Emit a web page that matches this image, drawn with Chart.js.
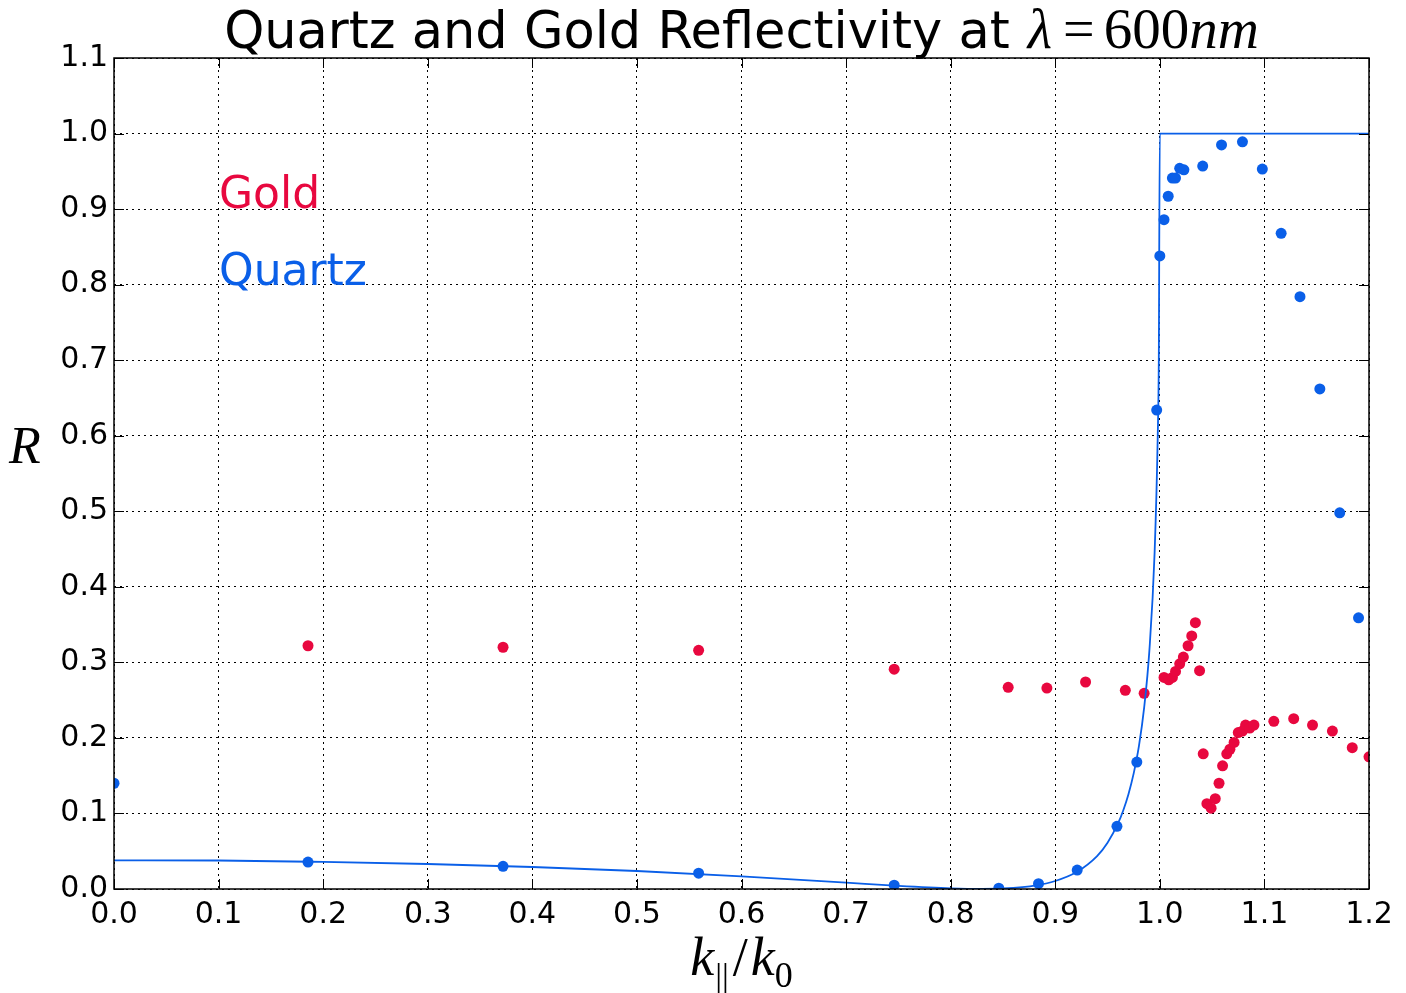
<!DOCTYPE html>
<html>
<head>
<meta charset="utf-8">
<script src="https://cdn.jsdelivr.net/npm/chart.js@4/dist/chart.umd.min.js"></script>
<style>
  body { margin: 0; background: #fff; }
  #wrap { width: 1406px; height: 993px; }
</style>
</head>
<body>
<div id="wrap"><canvas id="reflChart" width="1406" height="993"></canvas></div>
<script>
// values
const quartzK = [0, 0.1855, 0.372, 0.559, 0.746, 0.846, 0.884, 0.921, 0.959, 0.978,
  0.997, 1.000, 1.004, 1.008, 1.012, 1.015, 1.019, 1.023, 1.041, 1.059,
  1.079, 1.098, 1.116, 1.134, 1.153, 1.172, 1.190];
const quartzR = [0.140, 0.0357, 0.030, 0.021, 0.005, 0.001, 0.007, 0.025, 0.083, 0.168,
  0.634, 0.838, 0.886, 0.917, 0.941, 0.941, 0.954, 0.952, 0.957, 0.985,
  0.989, 0.953, 0.868, 0.784, 0.662, 0.498, 0.359];

const goldK = [0.1855, 0.372, 0.559, 0.746, 0.855, 0.892, 0.929, 0.967, 0.985,
  1.004, 1.0085, 1.012, 1.015, 1.019, 1.0225, 1.027, 1.0305, 1.034, 1.038,
  1.0415, 1.045, 1.049, 1.053, 1.0566, 1.060, 1.064, 1.067, 1.071, 1.075,
  1.079, 1.082, 1.086, 1.090, 1.109, 1.128, 1.146, 1.165, 1.184, 1.200];
const goldR = [0.322, 0.320, 0.316, 0.291, 0.267, 0.266, 0.274, 0.263, 0.259,
  0.280, 0.277, 0.280, 0.288, 0.298, 0.307, 0.322, 0.335, 0.3525, 0.289,
  0.179, 0.113, 0.107, 0.1195, 0.140, 0.163, 0.179, 0.185, 0.194, 0.207,
  0.209, 0.217, 0.213, 0.217, 0.222, 0.2255, 0.217, 0.209, 0.187, 0.175];

// the solid quartz curve
const curveK = [0, 0.1, 0.2, 0.3, 0.4, 0.5, 0.6, 0.7, 0.75, 0.8,
  0.83, 0.86, 0.88, 0.9, 0.92, 0.94, 0.95, 0.96, 0.965, 0.97,
  0.975, 0.98, 0.985, 0.99, 0.995, 0.998, 0.999, 1.0, 1.2];
const curveR = [0.0380, 0.0377, 0.0358, 0.0331, 0.0291, 0.0238, 0.0168, 0.0084, 0.0041, 0.0008,
  0.0000, 0.0014, 0.0044, 0.0106, 0.0221, 0.0436, 0.0613, 0.0868, 0.104, 0.1255,
  0.153, 0.189, 0.240, 0.3155, 0.445, 0.60, 0.698, 1.0, 1.0];

const xTicks = [0, 0.1, 0.2, 0.3, 0.4, 0.5, 0.6, 0.7, 0.8, 0.9, 1.0, 1.1, 1.2];
const yTicks = [0, 0.1, 0.2, 0.3, 0.4, 0.5, 0.6, 0.7, 0.8, 0.9, 1.0, 1.1];

const RED = "#e8083f";
const BLUE = "#0a5fe8";
const toPts = (xs, ys) => xs.map((x, i) => ({ x: x, y: ys[i] }));

function drawPieces(ctx, pieces, cx, baseline) {
  let total = 0;
  pieces.forEach((p) => {
    ctx.font = p.font;
    p.w = ctx.measureText(p.text).width + (p.gap || 0) * 2;
    total += p.w;
  });
  let x = cx - total / 2;
  pieces.forEach((p) => {
    ctx.font = p.font;
    ctx.fillText(p.text, x + (p.gap || 0), baseline + (p.dy || 0));
    x += p.w;
  });
}

const decorations = {
  id: "decorations",
  afterDraw(chart) {
    const ctx = chart.ctx;
    const a = chart.chartArea;
    const xs = chart.scales.x;
    const ys = chart.scales.y;
    ctx.save();

    // inward tick marks on all four sides
    ctx.strokeStyle = "#000";
    ctx.lineWidth = 1;
    ctx.beginPath();
    xTicks.forEach((v) => {
      const px = Math.round(xs.getPixelForValue(v)) + 0.5;
      ctx.moveTo(px, a.bottom); ctx.lineTo(px, a.bottom - 10);
      ctx.moveTo(px, a.top); ctx.lineTo(px, a.top + 10);
    });
    yTicks.forEach((v) => {
      const py = Math.round(ys.getPixelForValue(v)) + 0.5;
      ctx.moveTo(a.left, py); ctx.lineTo(a.left + 10, py);
      ctx.moveTo(a.right, py); ctx.lineTo(a.right - 10, py);
    });
    ctx.stroke();

    // frame
    ctx.lineWidth = 1.5;
    ctx.strokeRect(a.left, a.top, a.right - a.left, a.bottom - a.top);

    ctx.fillStyle = "#000";
    ctx.textAlign = "left";
    ctx.textBaseline = "alphabetic";
    const cx = (a.left + a.right) / 2;

    // title
    drawPieces(ctx, [
      { text: "Quartz and Gold Reflectivity at ", font: "51px 'DejaVu Sans'" },
      { text: "λ", font: "italic 56px 'Liberation Serif'", gap: 2 },
      { text: "=", font: "56px 'Liberation Serif'", gap: 9 },
      { text: "600", font: "57px 'Liberation Serif'" },
      { text: "nm", font: "italic 57px 'Liberation Serif'" },
    ], cx, 48);

    // x axis label
    drawPieces(ctx, [
      { text: "k", font: "italic 54px 'Liberation Serif'" },
      { text: "||", font: "34px 'Liberation Serif'", dy: 12, gap: 1 },
      { text: "/", font: "54px 'Liberation Serif'", gap: 3 },
      { text: "k", font: "italic 54px 'Liberation Serif'" },
      { text: "0", font: "36px 'Liberation Serif'", dy: 12 },
    ], cx, 975);

    // y axis label
    ctx.font = "italic 52px 'Liberation Serif'";
    ctx.fillText("R", 9, 463);

    // series labels
    ctx.font = "44px 'DejaVu Sans'";
    ctx.fillStyle = RED;
    ctx.fillText("Gold", 219, 208);
    ctx.fillStyle = BLUE;
    ctx.fillText("Quartz", 219, 285);

    ctx.restore();
  },
};

const tickFont = { family: "DejaVu Sans", size: 30 };

new Chart(document.getElementById("reflChart"), {
  type: "scatter",
  data: {
    datasets: [
      {
        label: "Quartz curve",
        data: toPts(curveK, curveR),
        showLine: true,
        borderColor: BLUE,
        borderWidth: 1.8,
        pointRadius: 0,
        cubicInterpolationMode: "monotone",
        clip: 0,
        order: 0,
      },
      {
        label: "Quartz",
        data: toPts(quartzK, quartzR),
        backgroundColor: BLUE,
        borderWidth: 0,
        pointRadius: 5.5,
        clip: 0,
        order: 1,
      },
      {
        label: "Gold",
        data: toPts(goldK, goldR),
        backgroundColor: RED,
        borderWidth: 0,
        pointRadius: 5.5,
        clip: 0,
        order: 2,
      },
    ],
  },
  options: {
    responsive: false,
    animation: false,
    events: [],
    layout: { padding: { top: 58, right: 37, left: 0, bottom: 0 } },
    plugins: {
      legend: { display: false },
      tooltip: { enabled: false },
      title: { display: false },
    },
    scales: {
      x: {
        type: "linear",
        min: 0,
        max: 1.2,
        afterFit: (s) => { s.height = 104; },
        afterBuildTicks: (s) => { s.ticks = xTicks.map((v) => ({ value: v })); },
        ticks: {
          color: "#000",
          font: tickFont,
          padding: 8,
          maxRotation: 0,
          callback: (v) => Number(v).toFixed(1),
        },
        grid: { color: "#000", lineWidth: 1, drawTicks: false },
        border: { display: false, dash: [2, 4] },
      },
      y: {
        type: "linear",
        min: 0,
        max: 1.1,
        afterFit: (s) => { s.width = 114; },
        afterBuildTicks: (s) => { s.ticks = yTicks.map((v) => ({ value: v })); },
        ticks: {
          color: "#000",
          font: tickFont,
          padding: 6,
          callback: (v) => Number(v).toFixed(1),
        },
        grid: { color: "#000", lineWidth: 1, drawTicks: false },
        border: { display: false, dash: [2, 4] },
      },
    },
  },
  plugins: [decorations],
});
</script>
</body>
</html>
